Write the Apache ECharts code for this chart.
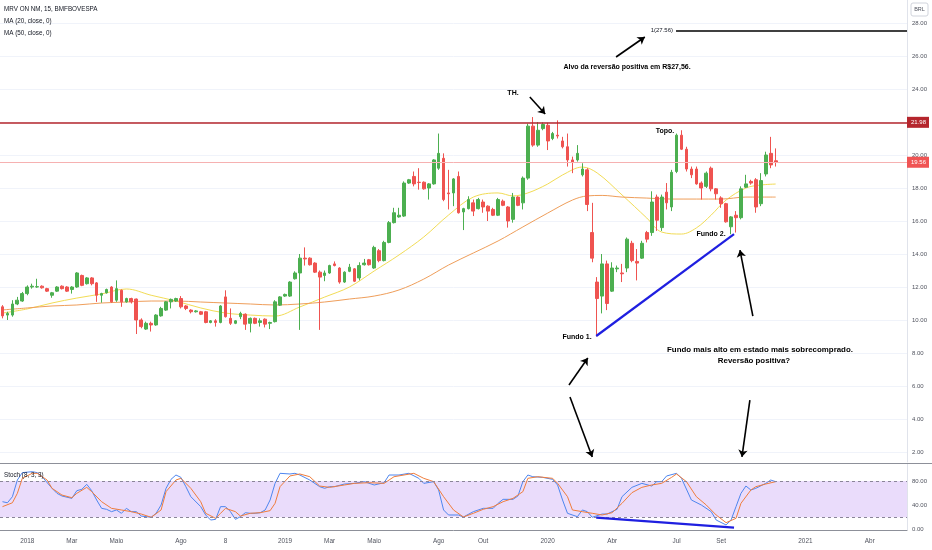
<!DOCTYPE html>
<html>
<head>
<meta charset="utf-8">
<script src="https://cdn.jsdelivr.net/npm/echarts@6/dist/echarts.min.js"></script>
<style>html,body{margin:0;padding:0;background:#fff}#c{width:932px;height:550px}</style>
</head>
<body>
<div id="c"></div>
<script>
const FONT = "'Liberation Sans', Arial, sans-serif";

// weekly categories (Mondays)
const startMs = Date.UTC(2017, 10, 27);
const NCAT = 183;
const categories = [];
for (let i = 0; i < NCAT; i++) categories.push(new Date(startMs + i * 604800000).toISOString().slice(0, 10));

const tickDates = ['2018-01-01','2018-03-05','2018-05-07','2018-08-06','2018-10-08','2018-12-31','2019-03-04','2019-05-06','2019-08-05','2019-10-07','2020-01-06','2020-04-06','2020-07-06','2020-09-07','2021-01-04','2021-04-05'];
const tickTexts = ['2018','Mar','Maio','Ago','8','2019','Mar','Maio','Ago','Out','2020','Abr','Jul','Set','2021','Abr'];
const priceTicks = [2,4,6,8,10,12,14,16,18,20,22,24,26,28];
const stochTicks = [0,40,80];

const opens = [10.8,10.3,10.3,10.97,11.15,11.6,12.0,12.0,12.05,11.9,11.5,11.75,12.05,12.0,11.85,12.0,12.7,12.2,12.55,12.25,11.5,11.65,12.0,11.2,11.8,11.1,11.3,11.27,10.0,9.45,9.8,9.7,10.25,10.6,11.1,11.15,11.3,10.85,10.6,10.5,10.5,10.5,9.85,9.95,9.85,11.4,10.1,9.8,10.2,10.35,9.8,10.1,9.85,10.05,9.8,9.9,10.9,11.45,11.45,12.5,12.85,13.75,13.75,13.45,12.9,12.7,12.85,13.4,13.15,12.3,12.95,13.1,12.55,13.35,13.65,13.15,14.2,13.6,14.7,15.9,16.25,16.3,18.3,18.7,18.35,18.35,18.0,18.25,19.2,19.8,17.7,17.7,18.7,16.55,16.75,17.1,16.75,17.15,16.9,16.7,16.35,17.2,16.85,16.1,17.45,17.1,18.6,21.75,20.6,21.6,21.8,21.0,21.2,20.85,20.5,19.7,19.7,18.8,19.1,15.3,12.3,11.45,13.4,11.75,13.1,12.85,13.15,14.65,13.55,13.75,15.3,15.3,17.45,15.6,17.75,16.85,19.0,21.2,20.35,19.15,19.15,18.3,18.1,19.2,17.95,17.4,17.05,15.65,16.35,16.2,18.05,18.4,18.5,17.05,18.85,20.1,19.65];
const highs = [10.9,10.5,11.2,11.4,11.7,12.1,12.2,12.5,12.1,11.95,11.7,12.05,12.1,12.05,12.05,12.9,12.75,12.6,12.6,12.3,11.65,11.9,12.05,12.4,11.85,11.35,11.35,11.3,10.1,9.9,9.9,10.35,10.8,11.15,11.3,11.35,11.45,10.9,10.65,10.6,10.55,10.55,10.0,10.05,10.9,11.8,10.7,10.0,10.5,10.4,10.15,10.15,10.1,10.1,9.9,11.2,11.45,11.6,12.35,12.95,14.0,14.4,13.8,13.5,13.0,13.0,13.35,13.55,13.2,12.95,13.4,13.15,13.5,13.7,13.7,14.5,14.3,14.8,16.0,16.8,16.8,18.4,18.55,19.0,19.2,18.4,18.3,19.75,21.3,20.1,19.1,18.6,19.0,16.8,17.5,17.3,17.4,17.3,16.95,16.8,17.4,17.3,16.9,17.7,17.5,18.7,21.9,22.3,22.0,21.98,21.95,21.4,22.1,21.1,21.3,19.9,20.6,19.5,19.2,17.1,12.6,14.0,13.6,13.5,13.3,13.4,15.0,14.8,14.3,14.8,15.4,17.8,17.6,17.6,18.3,19.1,21.3,21.5,20.5,19.3,19.3,18.4,19.0,19.3,18.0,17.5,17.1,16.3,16.6,18.1,18.8,18.5,18.6,18.9,20.2,21.1,20.4];
const lows = [10.1,10.0,10.2,10.9,11.1,11.5,11.9,11.95,11.9,11.7,11.35,11.7,11.85,11.7,11.6,11.95,12.05,12.15,12.1,11.1,11.05,11.6,11.05,11.1,10.8,11.05,11.0,9.15,9.5,9.4,9.3,9.65,10.2,10.55,10.7,11.1,10.7,10.6,10.4,10.45,10.3,9.8,9.8,9.6,9.8,10.15,9.7,9.75,10.05,9.4,9.25,9.75,9.6,9.55,9.45,9.85,10.85,11.4,11.4,12.45,9.4,13.3,13.3,12.85,9.4,12.35,12.8,13.25,12.2,12.25,12.9,12.3,12.4,13.3,13.3,13.1,13.5,13.55,14.65,15.85,16.2,16.25,18.25,18.1,17.9,17.9,17.3,18.2,19.1,17.2,16.7,16.9,16.45,15.45,16.7,16.3,16.7,16.5,16.0,16.3,16.3,16.9,15.6,15.9,16.9,16.7,18.5,20.5,20.5,21.5,20.3,20.9,21.0,20.4,19.3,18.9,19.6,18.7,16.6,13.5,9.0,10.4,10.6,11.7,12.9,12.3,12.9,13.5,12.4,13.7,14.7,15.1,15.4,15.4,16.7,16.6,18.9,20.3,19.0,18.6,18.2,17.3,18.0,17.8,17.3,16.8,15.9,15.2,15.3,16.1,18.0,18.2,16.5,16.9,18.7,19.2,19.3];
const closes = [10.25,10.4,10.97,11.2,11.6,12.0,12.05,12.02,11.95,11.75,11.65,12.0,11.9,11.75,12.0,12.85,12.1,12.55,12.2,11.5,11.6,11.85,11.1,11.9,11.1,11.3,11.1,10.0,9.6,9.8,9.7,10.3,10.7,11.1,11.25,11.3,10.8,10.7,10.5,10.55,10.35,9.85,9.95,9.85,10.85,10.2,9.8,9.95,10.4,9.75,10.1,9.8,9.95,9.75,9.85,11.1,11.4,11.55,12.3,12.85,13.75,13.7,13.35,12.9,12.6,12.85,13.3,13.3,12.3,12.9,13.2,12.35,13.3,13.45,13.35,14.4,13.6,14.7,15.9,16.5,16.35,18.3,18.5,18.25,18.33,17.95,18.25,19.7,20.1,17.3,17.65,18.55,16.5,16.75,17.3,16.6,17.3,16.85,16.6,16.35,17.3,16.95,16.0,17.45,16.95,18.6,21.75,20.6,21.5,21.85,20.85,21.3,21.15,20.5,19.7,19.55,20.1,19.15,17.0,13.75,11.3,13.4,11.0,13.15,13.15,12.8,14.9,13.6,13.45,14.65,14.9,17.15,16.05,17.45,17.1,18.95,21.2,20.35,19.15,18.8,18.25,18.0,18.9,17.95,17.65,17.05,15.95,16.25,16.2,17.95,18.25,18.3,16.85,18.45,20.0,19.4,19.56];

// moving averages: [bar index, value]
const ma20 = [[0,10.42],[5,10.67],[10,11.03],[15,11.33],[20,11.58],[25,11.88],[30,11.5],[35,11.15],[40,10.73],[45,10.42],[50,10.3],[55,10.24],[60,10.79],[65,11.39],[70,12.0],[75,12.97],[80,13.94],[85,15.03],[90,16.36],[95,17.45],[100,17.7],[103,17.52],[106,17.7],[110,18.24],[113,18.79],[117,19.27],[120,18.91],[125,17.58],[130,16.18],[133,15.33],[137,15.21],[140,15.58],[143,16.36],[146,17.27],[150,18.0],[153,18.18],[156,18.24]];
const ma50 = [[0,10.61],[5,10.73],[10,10.85],[15,10.91],[20,11.03],[25,11.09],[30,11.15],[35,11.15],[40,11.09],[45,11.03],[50,10.97],[55,10.91],[60,10.97],[65,11.09],[70,11.27],[75,11.45],[80,11.82],[85,12.48],[90,13.33],[95,14.06],[100,14.79],[105,15.64],[110,16.48],[115,17.27],[118,17.52],[121,17.55],[125,17.45],[130,17.39],[135,17.33],[140,17.33],[145,17.33],[150,17.45],[156,17.45]];

// stochastic: [bar index, value]
const stochK = [[0,45.8],[1,44],[2,54],[3,81.6],[4,93.8],[6,95.4],[7,93.8],[8,87],[10,67.9],[11,59.6],[12,55.2],[14,51.3],[15,64],[16,66.2],[17,74.5],[18,64],[19,48.6],[20,34.8],[21,33.2],[22,29.3],[23,32.1],[24,26.6],[25,34.8],[26,29.3],[27,29.3],[28,22.1],[30,20],[31,26.6],[32,40.3],[33,67.9],[34,82.7],[35,89.9],[36,86],[37,70.6],[38,54.1],[40,37.6],[41,23.8],[42,15.5],[43,16.6],[44,37.6],[45,37.6],[46,29.3],[47,16.6],[48,21],[49,27.6],[50,26.6],[51,26.6],[52,27.6],[53,32.1],[54,48.6],[55,76.1],[56,92.7],[58,91.6],[59,92.7],[60,89.9],[62,81.6],[64,70.6],[65,67.9],[66,70.6],[67,70.6],[69,75],[71,76.1],[73,78.9],[75,73.4],[77,77.2],[78,89.9],[80,89.9],[82,92.7],[84,84.4],[85,76.1],[87,78.9],[88,65.1],[89,32.1],[90,23.8],[92,23.8],[93,20.5],[95,29.3],[97,34.8],[99,34.8],[100,43.1],[101,49.7],[103,49.7],[104,55.2],[105,78.9],[106,89.9],[107,87.1],[109,86],[111,82.7],[112,73.4],[113,48.6],[114,26.6],[116,21],[117,32.1],[118,29.3],[119,20],[121,25.4],[122,25.4],[124,33.2],[125,54.1],[127,69.5],[129,76.1],[131,71.7],[132,78.9],[133,78.9],[134,88.3],[136,92.7],[137,84.4],[139,48.6],[141,40.3],[143,29.3],[144,15.5],[146,7.3],[147,15.5],[148,37.6],[149,59.6],[150,71.7],[151,65.1],[152,67.9],[154,76.1],[155,81.6],[156,78.9]];
const stochD = [[0,37.6],[2,44],[3,59.6],[4,84.4],[6,92.7],[7,92.7],[9,81.6],[10,67.9],[12,56.8],[14,52.4],[15,59.6],[17,69.5],[18,62.4],[20,45.8],[22,34.8],[24,32.1],[26,29.3],[28,25.4],[30,20],[32,32.1],[33,62.4],[35,81.6],[36,84.4],[38,67.9],[40,45.8],[41,26.6],[43,18.3],[44,26.6],[45,34.8],[47,29.3],[48,22.1],[50,26.6],[52,27.6],[54,31],[55,43.1],[56,70.6],[58,88.3],[60,91.6],[62,87.1],[64,71.7],[66,69.5],[69,73.4],[71,76.1],[74,77.2],[77,76.1],[79,87.1],[83,92.7],[85,84.4],[87,78.9],[89,54.1],[91,32.1],[93,20.5],[95,26.6],[97,33.2],[99,37.6],[101,45.8],[103,51.3],[105,62.4],[106,84.4],[108,87.1],[111,84.4],[112,76.1],[114,54.1],[115,32.1],[117,29.3],[119,26.6],[121,23.8],[123,27.6],[125,43.1],[127,60.7],[129,69.5],[131,73.4],[133,76.1],[135,86],[136,91.6],[138,78.9],[140,54.1],[142,40.3],[144,23.8],[146,11.1],[148,18.3],[149,43.1],[151,65.1],[152,70.6],[154,75],[156,78.9]];

// annotation drawings in data coordinates [bar index, value]
const resistance = 21.98;
const lastPrice = 19.56;
const target = 27.56;
const targetStart = 135.9;
const trendMain = [[119.8, 9.03], [147.6, 15.21]];
const trendStoch = [[119.8, 19.3], [147.6, 2.8]];
const arrows = [
  [[123.8, 25.94], [129.6, 27.15]],
  [[106.4, 23.52], [109.5, 22.48]],
  [[114.3, 6.06], [118.1, 7.70]],
  [[114.5, 5.33], [119.0, 1.70]],
  [[151.4, 10.24], [148.8, 14.24]],
  [[150.8, 5.15], [149.2, 1.70]]
];
const notes = [
  ['TH.', 513, 93, 7],
  ['Alvo da reversão positiva em R$27,56.', 627, 67, 7],
  ['Topo.', 665, 131, 7],
  ['Fundo 2.', 711, 234, 7],
  ['Fundo 1.', 577, 337, 7],
  ['Fundo mais alto em estado mais sobrecomprado.', 760, 350, 7.9],
  ['Reversão positiva?', 754, 361, 7.9]
];

const candleData = opens.map((o, i) => [o, closes[i], lows[i], highs[i]]);

const arrowLines = arrows.map(a => [
  { coord: a[0], symbol: 'none', lineStyle: { color: '#000', width: 1.6, type: 'solid' } },
  { coord: a[1], symbol: 'arrow', symbolSize: 7 }
]);

const chart = echarts.init(document.getElementById('c'), null, { renderer: 'canvas' });

const texts = notes.map(n => ({
  type: 'text', x: n[1], y: n[2], silent: true, z: 100,
  style: { text: n[0], font: 'bold ' + n[3] + 'px ' + FONT, fill: '#000', textAlign: 'center', textVerticalAlign: 'middle', align: 'center', verticalAlign: 'middle' }
}));

const legendTexts = [
  ['MRV ON NM, 15, BMFBOVESPA', 4, 9.5],
  ['MA (20, close, 0)', 4, 21.5],
  ['MA (50, close, 0)', 4, 33],
  ['Stoch (8, 3, 3)', 4, 475]
].map(t => ({
  type: 'text', x: t[1], y: t[2], silent: true, z: 100,
  style: { text: t[0], font: '6.3px ' + FONT, fill: '#131722', textAlign: 'left', textVerticalAlign: 'middle', align: 'left', verticalAlign: 'middle' }
}));

const option = {
  animation: false,
  backgroundColor: '#ffffff',
  textStyle: { fontFamily: FONT },
  grid: [
    { left: 0, top: 0, width: 907, height: 462 },
    { left: 0, top: 464, width: 907, height: 66 }
  ],
  xAxis: [
    { type: 'category', gridIndex: 0, data: categories, boundaryGap: true,
      axisLine: { show: false }, axisTick: { show: false }, axisLabel: { show: false }, splitLine: { show: false } },
    { type: 'value', gridIndex: 0, min: -0.5, max: NCAT - 0.5, show: false },
    { type: 'category', gridIndex: 1, data: categories, boundaryGap: true,
      axisLine: { show: true, onZero: false, lineStyle: { color: '#8d9099', width: 1 } }, axisTick: { show: false },
      axisLabel: { show: true, interval: (idx, val) => tickDates.indexOf(val) >= 0, formatter: v => tickTexts[tickDates.indexOf(v)], color: '#50535e', fontSize: 6.4, margin: 8, fontFamily: FONT },
      splitLine: { show: false } },
    { type: 'value', gridIndex: 1, min: -0.5, max: NCAT - 0.5, show: false }
  ],
  yAxis: [
    { type: 'value', gridIndex: 0, position: 'right', min: 28 - 439 / 16.5, max: 28 + 23 / 16.5, scale: true,
      axisLine: { show: true, onZero: false, lineStyle: { color: '#e0e3eb' } },
      axisTick: { show: false, customValues: priceTicks },
      axisLabel: { customValues: priceTicks, formatter: v => v.toFixed(2), color: '#50535e', fontSize: 6, margin: 5, fontFamily: FONT },
      splitLine: { show: true, lineStyle: { color: '#f0f3fa', width: 1 } } },
    { type: 'value', gridIndex: 1, position: 'right', min: -1, max: 108.1, scale: true,
      axisLine: { show: true, onZero: false, lineStyle: { color: '#e0e3eb' } },
      axisTick: { show: false, customValues: stochTicks },
      axisLabel: { customValues: stochTicks, formatter: v => v.toFixed(2), color: '#50535e', fontSize: 6, margin: 5, fontFamily: FONT },
      splitLine: { show: false } }
  ],
  series: [
    { name: 'MRV', type: 'candlestick', xAxisIndex: 0, yAxisIndex: 0, data: candleData, barWidth: 3.2, z: 3,
      itemStyle: { color: '#4caf50', color0: '#ef5350', borderColor: '#4caf50', borderColor0: '#ef5350', borderWidth: 1 },
      markLine: { silent: true, symbol: 'none', animation: false, z: 4,
        data: [
          { yAxis: resistance, lineStyle: { color: '#b5262d', width: 1.6, type: 'solid' },
            label: { show: true, position: 'end', distance: 0, formatter: resistance.toFixed(2), color: '#fff', backgroundColor: '#b5262d', padding: [3, 3, 2, 4], fontSize: 6, fontFamily: FONT } },
          { yAxis: lastPrice, lineStyle: { color: '#f6b1b1', width: 1, type: 'solid' },
            label: { show: true, position: 'end', distance: 0, formatter: lastPrice.toFixed(2), color: '#fff', backgroundColor: '#f05454', padding: [3, 3, 2, 4], fontSize: 6, fontFamily: FONT } }
        ] } },
    { name: 'MA20', type: 'line', xAxisIndex: 1, yAxisIndex: 0, data: ma20, smooth: 0.35, showSymbol: false, z: 2,
      lineStyle: { color: '#f2dc55', width: 1 } },
    { name: 'MA50', type: 'line', xAxisIndex: 1, yAxisIndex: 0, data: ma50, smooth: 0.35, showSymbol: false, z: 2,
      lineStyle: { color: '#ef9e5a', width: 1 },
      markLine: { silent: true, animation: false, z: 5, label: { show: false },
        data: [
          [ { coord: trendMain[0], symbol: 'none', lineStyle: { color: '#1f1fe0', width: 2.2, type: 'solid' } },
            { coord: trendMain[1], symbol: 'none' } ],
          [ { coord: [targetStart, target], symbol: 'none', lineStyle: { color: '#000', width: 1.6, type: 'solid' },
              label: { show: true, position: 'start', distance: 3, formatter: '1(' + target.toFixed(2) + ')', color: '#131722', fontSize: 6, fontFamily: FONT } },
            { coord: [NCAT - 0.5, target], symbol: 'none' } ]
        ].concat(arrowLines) } },
    { name: '%K', type: 'line', xAxisIndex: 3, yAxisIndex: 1, data: stochK, showSymbol: false, z: 3,
      lineStyle: { color: '#4e86ef', width: 1 },
      markArea: { silent: true, itemStyle: { color: '#eadcfb' }, data: [[{ yAxis: 20 }, { yAxis: 80 }]] },
      markLine: { silent: true, animation: false, label: { show: false }, symbol: 'none',
        data: [
          { yAxis: 80, lineStyle: { color: '#8a8598', width: 1, type: [3, 3] } },
          { yAxis: 20, lineStyle: { color: '#8a8598', width: 1, type: [3, 3] } },
          [ { coord: trendStoch[0], lineStyle: { color: '#1f1fe0', width: 2.2, type: 'solid' } }, { coord: trendStoch[1] } ]
        ] } },
    { name: '%D', type: 'line', xAxisIndex: 3, yAxisIndex: 1, data: stochD, showSymbol: false, z: 3,
      lineStyle: { color: '#f07d3c', width: 1 } }
  ],
  graphic: [
    { type: 'line', silent: true, z: 50, shape: { x1: 0, y1: 463.5, x2: 932, y2: 463.5 }, style: { stroke: '#8d9099', lineWidth: 1 } },
    { type: 'rect', silent: true, z: 50, shape: { x: 911, y: 3, width: 17, height: 13, r: 2 }, style: { fill: '#fff', stroke: '#d1d4dc', lineWidth: 1 } },
    { type: 'text', silent: true, z: 51, x: 919.5, y: 9.5, style: { text: 'BRL', font: '5.5px ' + FONT, fill: '#50535e', textAlign: 'center', textVerticalAlign: 'middle', align: 'center', verticalAlign: 'middle' } }
  ].concat(texts, legendTexts)
};

chart.setOption(option);
</script>
</body>
</html>
